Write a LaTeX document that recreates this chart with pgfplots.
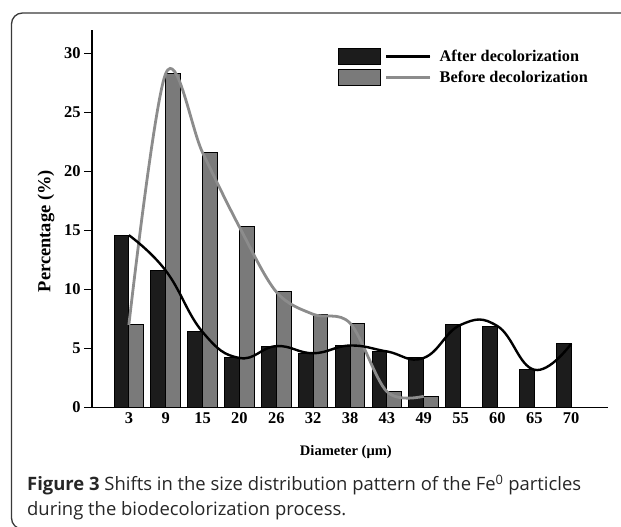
\documentclass[border=0pt]{standalone}
\usepackage{pgfplots}
\pgfplotsset{compat=1.18}
\usepackage{fontspec}
\setmainfont{Liberation Serif}
\newfontfamily\capfont{Open Sans}
\definecolor{barblack}{HTML}{1C1C1C}
\definecolor{bargray}{HTML}{7A7A7A}
\definecolor{curvegray}{HTML}{8C8C8C}
\definecolor{framecol}{HTML}{3A3A3A}
\begin{document}
\begin{tikzpicture}[x=1bp,y=1bp]
\useasboundingbox (0,0) rectangle (621,527);
\begin{scope}
\clip (0,0) rectangle (621,527);
\draw[framecol, line width=1.3bp, rounded corners=11bp] (11.5,-2) rectangle (650,514);
\end{scope}
\begin{axis}[
  at={(92bp,119.5bp)}, anchor=south west,
  scale only axis, width=516bp, height=377.6bp,
  xmin=-1, xmax=13, ymin=0, ymax=32,
  axis x line*=bottom, axis y line*=left,
  axis line style={line width=1.3bp, black},
  xtick={0,...,12},
  xticklabels={3,9,15,20,26,32,38,43,49,55,60,65,70},
  ytick={0,5,...,30},
  tick align=outside,
  major tick length=8bp,
  x tick style={draw=none},
  y tick style={line width=1.3bp, black},
  tick label style={font=\bfseries\fontsize{16.5}{16.5}\selectfont},
  x tick label style={yshift=6bp},
  /pgf/number format/assume math mode=true,
  xlabel={Diameter (μm)},
  ylabel={Percentage (\%)},
  xlabel style={at={(axis description cs:0.492,-0.117)}, anchor=center, font=\bfseries\fontsize{14.6}{14.6}\selectfont},
  ylabel style={at={(axis description cs:-0.089,0.467)}, anchor=center, rotate=0, font=\bfseries\fontsize{18.5}{18.5}\selectfont},
  legend style={at={(axis description cs:0.4767,0.952)}, anchor=north west, draw=none, fill=none,
    inner sep=0pt, outer sep=0pt, row sep=4bp,
    font=\bfseries\fontsize{16.3}{16.3}\selectfont, cells={anchor=west},
    /tikz/every odd column/.append style={column sep=6bp}},
]
\addplot[ybar, bar width=0.4, bar shift=-0.2, fill=barblack, draw=black, line width=1bp,
  legend image code/.code={
    \draw[fill=barblack, draw=black, line width=1bp] (0bp,-8bp) rectangle (42bp,8bp);
    \draw[black, line width=2.5bp] (48bp,0bp) -- (92bp,0bp);
  }] coordinates {
  (0,14.6) (1,11.6) (2,6.4) (3,4.2) (4,5.2) (5,4.6) (6,5.25) (7,4.75) (8,4.2) (9,7.0) (10,6.9) (11,3.2) (12,5.4)
};
\addlegendentry{After decolorization}
\addplot[ybar, bar width=0.4, bar shift=0.2, fill=bargray, draw=black, line width=1bp,
  legend image code/.code={
    \draw[fill=bargray, draw=black, line width=1bp] (0bp,-8bp) rectangle (42bp,8bp);
    \draw[curvegray, line width=2.5bp] (48bp,0bp) -- (92bp,0bp);
  }] coordinates {
  (0,7.0) (1,28.3) (2,21.6) (3,15.3) (4,9.8) (5,7.9) (6,7.15) (7,1.35) (8,0.95)
};
\addlegendentry{Before decolorization}
\addplot[smooth, tension=0.55, curvegray, line width=2.8bp, forget plot] coordinates {
  (0,7.0) (1,28.3) (2,21.6) (3,15.3) (4,9.8) (5,7.9) (6,7.15) (7,1.35) (8,0.95)
};
\addplot[smooth, tension=0.75, black, line width=2.4bp, forget plot] coordinates {
  (0,14.6) (1,11.6) (2,6.4) (3,4.2) (4,5.2) (5,4.6) (6,5.25) (7,4.75) (8,4.2) (9,7.0) (10,6.9) (11,3.2) (12,5.4)
};
\end{axis}
\node[anchor=base west, inner sep=0pt, font=\capfont\fontsize{18.5}{18.5}\selectfont, text=black!85] at (27,36)
  {\textbf{Figure 3} Shifts in the size distribution pattern of the Fe\textsuperscript{0} particles};
\node[anchor=base west, inner sep=0pt, font=\capfont\fontsize{18.5}{18.5}\selectfont, text=black!85] at (27,11)
  {during the biodecolorization process.};
\end{tikzpicture}
\end{document}
